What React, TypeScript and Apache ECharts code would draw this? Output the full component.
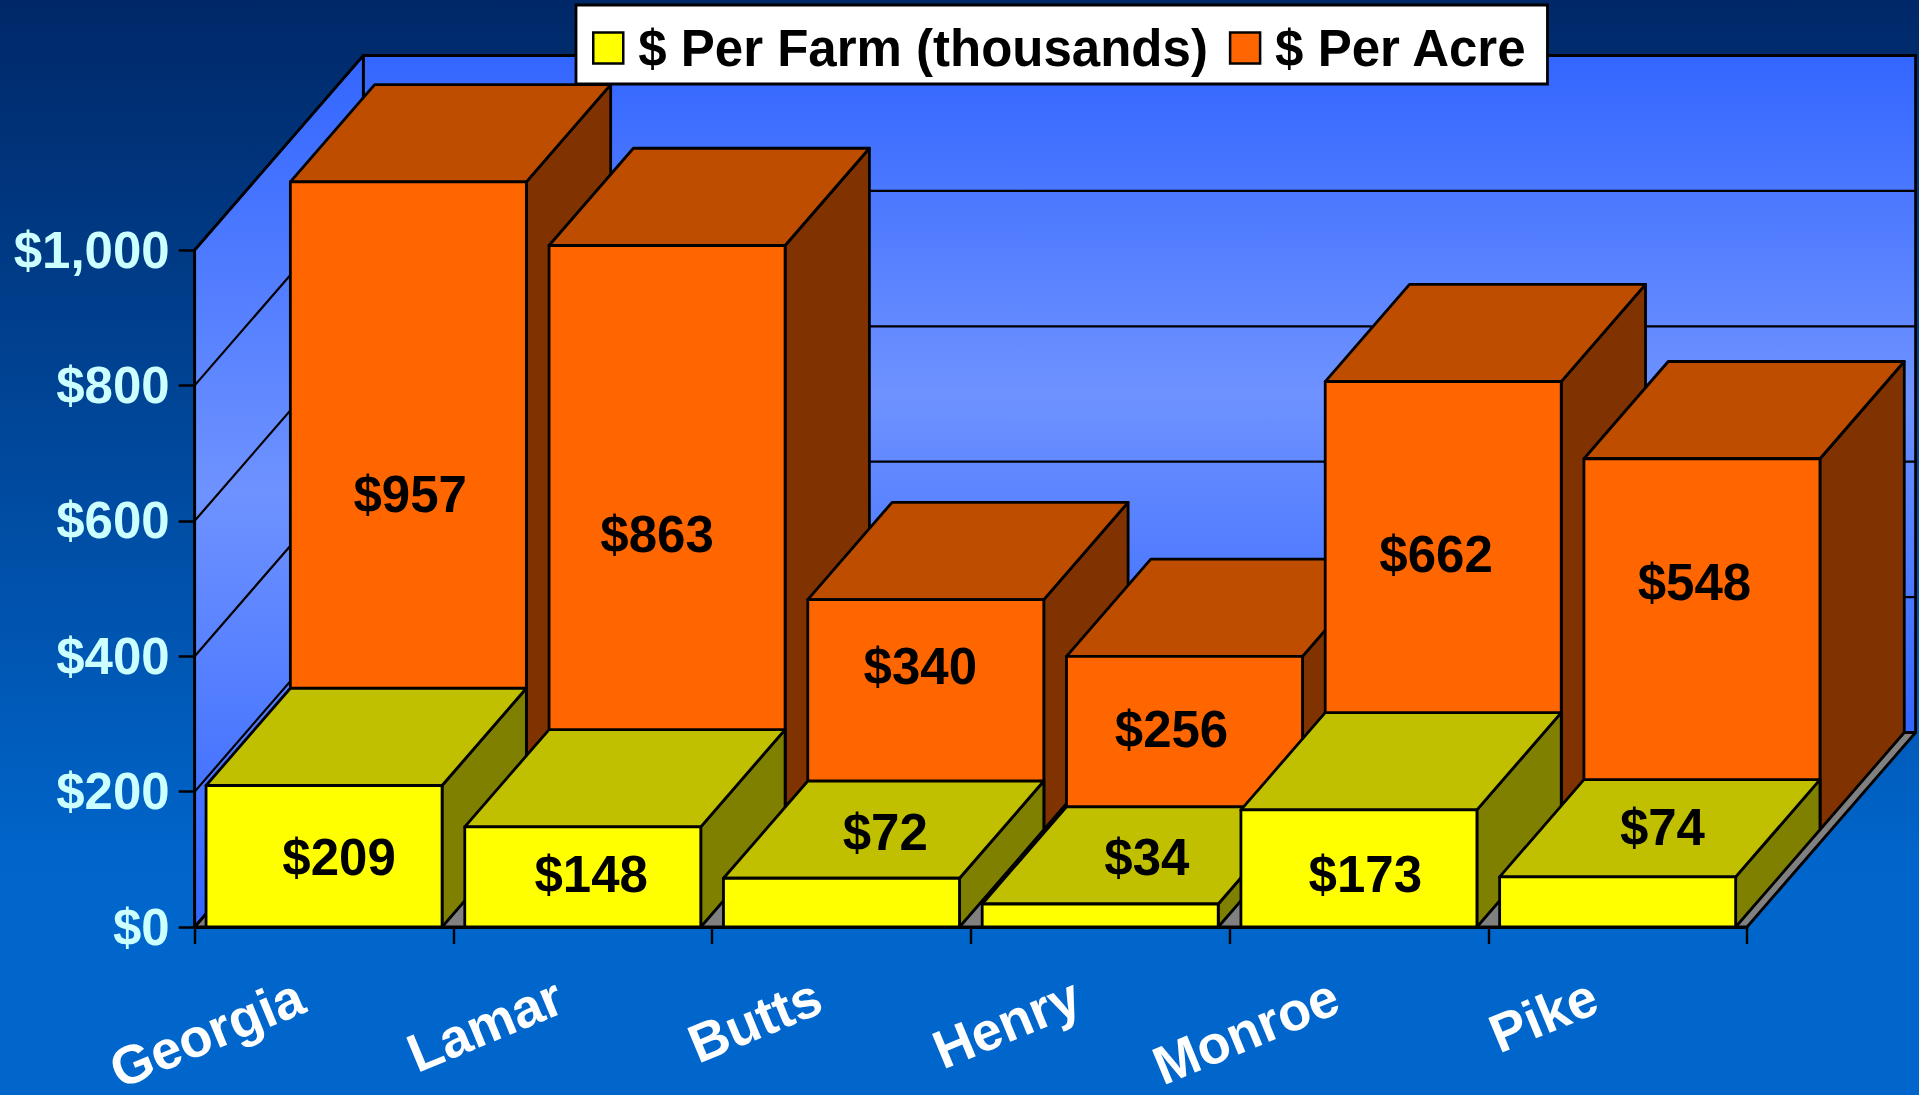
import React, { useEffect, useRef } from "react";
import * as echarts from "echarts";

const categories = ["Georgia", "Lamar", "Butts", "Henry", "Monroe", "Pike"];
const perFarm = [209, 148, 72, 34, 173, 74];
const perAcre = [957, 863, 340, 256, 662, 548];
const valueTicks = [0, 200, 400, 600, 800, 1000];

const FARM_NAME = "$ Per Farm (thousands)";
const ACRE_NAME = "$ Per Acre";

// Layout constants of the fake 3D box
const DEPTH_X = 168.6;
const DEPTH_Y = 194.5;
const BAR_RATIO = 236 / 258.7;
const FONT = '"Liberation Sans", Arial, sans-serif';
const FONT_SIZE = 51;
const EDGE = 2.8;

// Hand-placed label offsets (px) from the middle of each bar's front face
const farmLabelNudge = [[15, 1.5], [8.4, -2], [43.8, -69.7], [46.6, -57.5], [6.4, 6.4], [44.8, -74]];
const acreLabelNudge = [[1.8, -11.8], [-10, -3], [-5.5, -48.5], [-13, -13.3], [-7.2, -51.4], [-7.5, -61.7]];

const box = (api: any, row: number, fills: string[]) => {
  const i = api.value(0);
  const v = api.value(1);
  const band = api.size([1, 0])[0];
  const base = api.coord([i, 0]);
  const top = api.coord([i, v]);
  const w = band * BAR_RATIO;
  const ox = (row * DEPTH_X) / 2;
  const oy = (row * DEPTH_Y) / 2;
  const hx = DEPTH_X / 2;
  const hy = DEPTH_Y / 2;
  const x0 = base[0] - w / 2 + ox;
  const x1 = x0 + w;
  const y0 = base[1] - oy;
  const y1 = top[1] - oy;
  const st = (fill: string) => ({ fill, stroke: "#000", lineWidth: EDGE, lineJoin: "round" });
  return {
    type: "group",
    children: [
      { type: "polygon", shape: { points: [[x1, y0], [x1 + hx, y0 - hy], [x1 + hx, y1 - hy], [x1, y1]] }, style: st(fills[2]) },
      { type: "polygon", shape: { points: [[x0, y1], [x1, y1], [x1 + hx, y1 - hy], [x0 + hx, y1 - hy]] }, style: st(fills[1]) },
      { type: "polygon", shape: { points: [[x0, y0], [x1, y0], [x1, y1], [x0, y1]] }, style: st(fills[0]) },
    ],
  };
};

const valueLabel = (api: any, row: number, nudge: number[][]) => {
  const i = api.value(0);
  const v = api.value(1);
  const mid = api.coord([i, v / 2]);
  const n = nudge[i];
  return {
    type: "text",
    x: mid[0] + (row * DEPTH_X) / 2 + n[0],
    y: mid[1] - (row * DEPTH_Y) / 2 + n[1],
    style: {
      text: "$" + v,
      fill: "#000",
      font: `bold ${FONT_SIZE}px ${FONT}`,
      textAlign: "center",
      textVerticalAlign: "middle",
    },
  };
};

export default function App() {
  const ref = useRef<HTMLDivElement>(null);
  useEffect(() => {
    document.body.style.margin = "0";
    const chart = echarts.init(ref.current!, undefined, { renderer: "svg" });
    const wallFill = new echarts.graphic.LinearGradient(0, 0, 0, 1, [
      { offset: 0, color: "#3366FF" },
      { offset: 0.5, color: "#6E92FF" },
      { offset: 1, color: "#3366FF" },
    ]);
    const sideFill = new echarts.graphic.LinearGradient(0, 0, 0, 1, [
      { offset: 0, color: "#3366FF" },
      { offset: 0.5, color: "#6E92FF" },
      { offset: 1, color: "#3366FF" },
    ]);
    const pairs = (arr: number[]) => arr.map((v, i) => [i, v]);
    chart.setOption({
      animation: false,
      backgroundColor: new echarts.graphic.LinearGradient(0, 0, 0, 1, [
        { offset: 0, color: "#002868" },
        { offset: 0.8, color: "#0066CC" },
        { offset: 1, color: "#0066CC" },
      ]),
      grid: { left: 194.7, top: 250, width: 1552.3, height: 677, outerBoundsMode: "none" },
      legend: {
        left: 576,
        top: 5,
        padding: [14, 20, 7, 16],
        data: [
          { name: FARM_NAME, icon: "rect", itemStyle: { color: "#FFFF00", borderColor: "#000", borderWidth: 2.5 } },
          { name: ACRE_NAME, icon: "rect", itemStyle: { color: "#FF6600", borderColor: "#000", borderWidth: 2.5 } },
        ],
        itemWidth: 30,
        itemHeight: 31,
        itemGap: 21,
        selectedMode: false,
        backgroundColor: "#fff",
        borderColor: "#000",
        borderWidth: 2.8,
        textStyle: { fontFamily: FONT, fontWeight: "bold", fontSize: FONT_SIZE, color: "#000", padding: [0, 0, 0, 10], lineHeight: 58 },
      },
      xAxis: {
        type: "category",
        data: categories,
        z: 2,
        axisLine: { lineStyle: { color: "#000", width: 3 } },
        axisTick: { show: true, alignWithLabel: false, interval: 0, length: 17, lineStyle: { color: "#000", width: 2.4 } },
        axisLabel: {
          interval: 0,
          rotate: 22.5,
          margin: 57,
          padding: [0, 25, 0, 0],
          color: "#fff",
          fontFamily: FONT,
          fontWeight: "bold",
          fontSize: 54,
        },
      },
      yAxis: {
        type: "value",
        min: 0,
        max: 1000,
        interval: 200,
        z: 2,
        splitLine: { show: false },
        axisLine: { show: true, lineStyle: { color: "#000", width: 2.5 } },
        axisTick: { show: true, length: 16, lineStyle: { color: "#000", width: 2.5 } },
        axisLabel: {
          margin: 25,
          color: "#CCFFFF",
          fontFamily: FONT,
          fontWeight: "bold",
          fontSize: FONT_SIZE,
          formatter: (v: number) => "$" + v.toLocaleString("en-US"),
        },
      },
      series: [
        {
          type: "custom",
          name: "walls",
          z: 1,
          silent: true,
          data: [[0, 0]],
          renderItem: (_: any, api: any) => {
            const b0 = api.coord([0, 0]);
            const t0 = api.coord([0, 1000]);
            const band = api.size([1, 0])[0];
            const x0 = b0[0] - band / 2;
            const x1 = x0 + band * categories.length;
            const yb = b0[1];
            const yt = t0[1];
            const st = (fill: any) => ({ fill, stroke: "#000", lineWidth: EDGE, lineJoin: "round" });
            return {
              type: "group",
              children: [
                { type: "polygon", shape: { points: [[x0 + DEPTH_X, yt - DEPTH_Y], [x1 + DEPTH_X, yt - DEPTH_Y], [x1 + DEPTH_X, yb - DEPTH_Y], [x0 + DEPTH_X, yb - DEPTH_Y]] }, style: st(wallFill) },
                { type: "polygon", shape: { points: [[x0, yt], [x0 + DEPTH_X, yt - DEPTH_Y], [x0 + DEPTH_X, yb - DEPTH_Y], [x0, yb]] }, style: st(sideFill) },
                { type: "polygon", shape: { points: [[x0, yb], [x1, yb], [x1 + DEPTH_X, yb - DEPTH_Y], [x0 + DEPTH_X, yb - DEPTH_Y]] }, style: st("#808080") },
              ],
            };
          },
        },
        {
          type: "custom",
          name: "gridlines",
          z: 1,
          silent: true,
          data: valueTicks.map((v) => [0, v]),
          renderItem: (_: any, api: any) => {
            const p = api.coord([0, api.value(1)]);
            const band = api.size([1, 0])[0];
            const x0 = p[0] - band / 2;
            const x1 = x0 + band * categories.length;
            return {
              type: "polyline",
              shape: { points: [[x0, p[1]], [x0 + DEPTH_X, p[1] - DEPTH_Y], [x1 + DEPTH_X, p[1] - DEPTH_Y]] },
              style: { fill: "none", stroke: "#000", lineWidth: 2.2 },
            };
          },
        },
        {
          type: "custom",
          name: ACRE_NAME,
          z: 3,
          silent: true,
          itemStyle: { color: "#FF6600" },
          data: pairs(perAcre),
          renderItem: (_: any, api: any) => box(api, 1, ["#FF6600", "#BF4D00", "#803300"]),
        },
        {
          type: "custom",
          name: FARM_NAME,
          z: 4,
          silent: true,
          itemStyle: { color: "#FFFF00" },
          data: pairs(perFarm),
          renderItem: (_: any, api: any) => box(api, 0, ["#FFFF00", "#C0C000", "#808000"]),
        },
        {
          type: "custom",
          name: "acre labels",
          z: 5,
          silent: true,
          data: pairs(perAcre),
          renderItem: (_: any, api: any) => valueLabel(api, 1, acreLabelNudge),
        },
        {
          type: "custom",
          name: "farm labels",
          z: 5,
          silent: true,
          data: pairs(perFarm),
          renderItem: (_: any, api: any) => valueLabel(api, 0, farmLabelNudge),
        },
      ],
    });
    return () => chart.dispose();
  }, []);
  return <div ref={ref} style={{ position: "absolute", left: 0, top: 0, width: 1919, height: 1095 }} />;
}
